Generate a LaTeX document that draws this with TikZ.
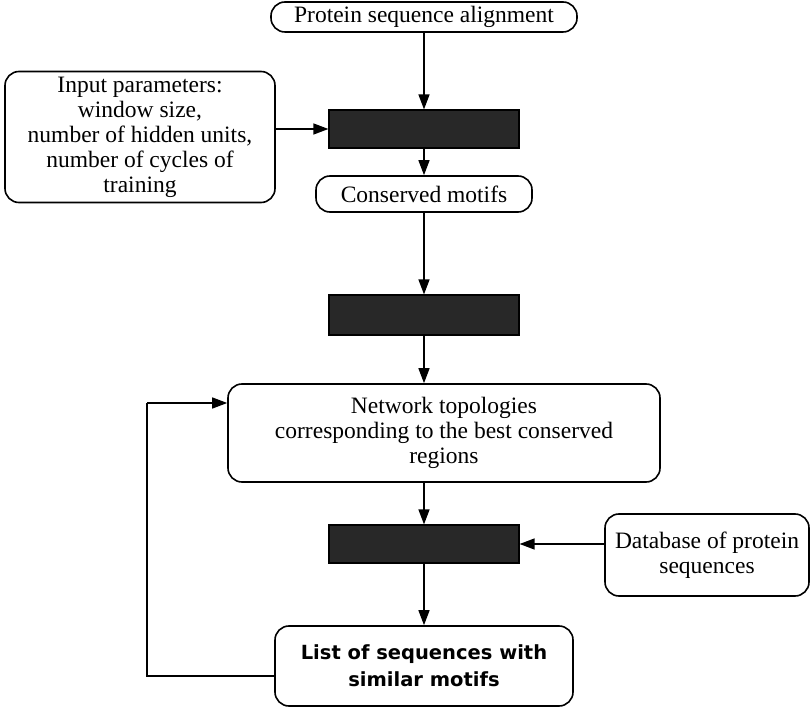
\documentclass[tikz,border=0pt]{standalone}
\usepackage{fontspec}
\setmainfont{Liberation Serif}
\newfontfamily\listfont{DejaVu Sans}
\usetikzlibrary{arrows.meta}
\begin{document}
\begin{tikzpicture}[x=1pt,y=-1pt,
  every node/.style={font=\fontsize{23.5}{25}\selectfont},
  roundbox/.style={draw,line width=1.6pt,rounded corners=14pt,align=center,inner sep=0pt},
  darkbox/.style={draw,line width=1.2pt,fill={rgb,255:red,40;green,40;blue,40},inner sep=0pt},
  flow/.style={line width=1.4pt,-{Triangle[length=15pt,width=11pt]}},
  plain/.style={line width=1.4pt}]
\useasboundingbox (0,0) rectangle (811,708);
\node[roundbox,minimum width=306pt,minimum height=30pt] (align) at (424,17) {Protein sequence alignment};
\node[roundbox,minimum width=270pt,minimum height=131pt] (input) at (140,137)
  {Input parameters:\\window size,\\number of hidden units,\\number of cycles of\\training};
\node[darkbox,minimum width=190pt,minimum height=38pt] (train) at (424,129) {};
\node[roundbox,minimum width=216pt,minimum height=36pt] (motifs) at (424,194) {Conserved motifs};
\node[darkbox,minimum width=190pt,minimum height=40pt] (select) at (424,315) {};
\node[roundbox,minimum width=432pt,minimum height=98pt] (topo) at (444,433)
  {Network topologies\\corresponding to the best conserved\\regions};
\node[darkbox,minimum width=190pt,minimum height=38pt] (search) at (424,544) {};
\node[roundbox,minimum width=204pt,minimum height=82pt] (db) at (707,555) {Database of protein\\sequences};
\node[roundbox,minimum width=298pt,minimum height=80pt,font=\listfont\bfseries\fontsize{19.5}{27}\selectfont] (list) at (424,666)
  {List of sequences with\\similar motifs};
\coordinate (loopturn) at (147,403);
\coordinate (loopbase) at (147,676);

\draw[flow] (align) -- (train);
\draw[flow] (input.east |- train) -- (train);
\draw[flow] (train) -- (motifs);
\draw[flow] (motifs) -- (select);
\draw[flow] (select) -- (select |- topo.north);
\draw[flow] (select |- topo.south) -- (search);
\draw[flow] (db.west |- search) -- (search);
\draw[flow] (search) -- (list);
\draw[plain] (list.west |- loopbase) -- (loopbase) -- (loopturn);
\draw[flow] (loopturn) -- (topo.west |- loopturn);
\end{tikzpicture}
\end{document}
